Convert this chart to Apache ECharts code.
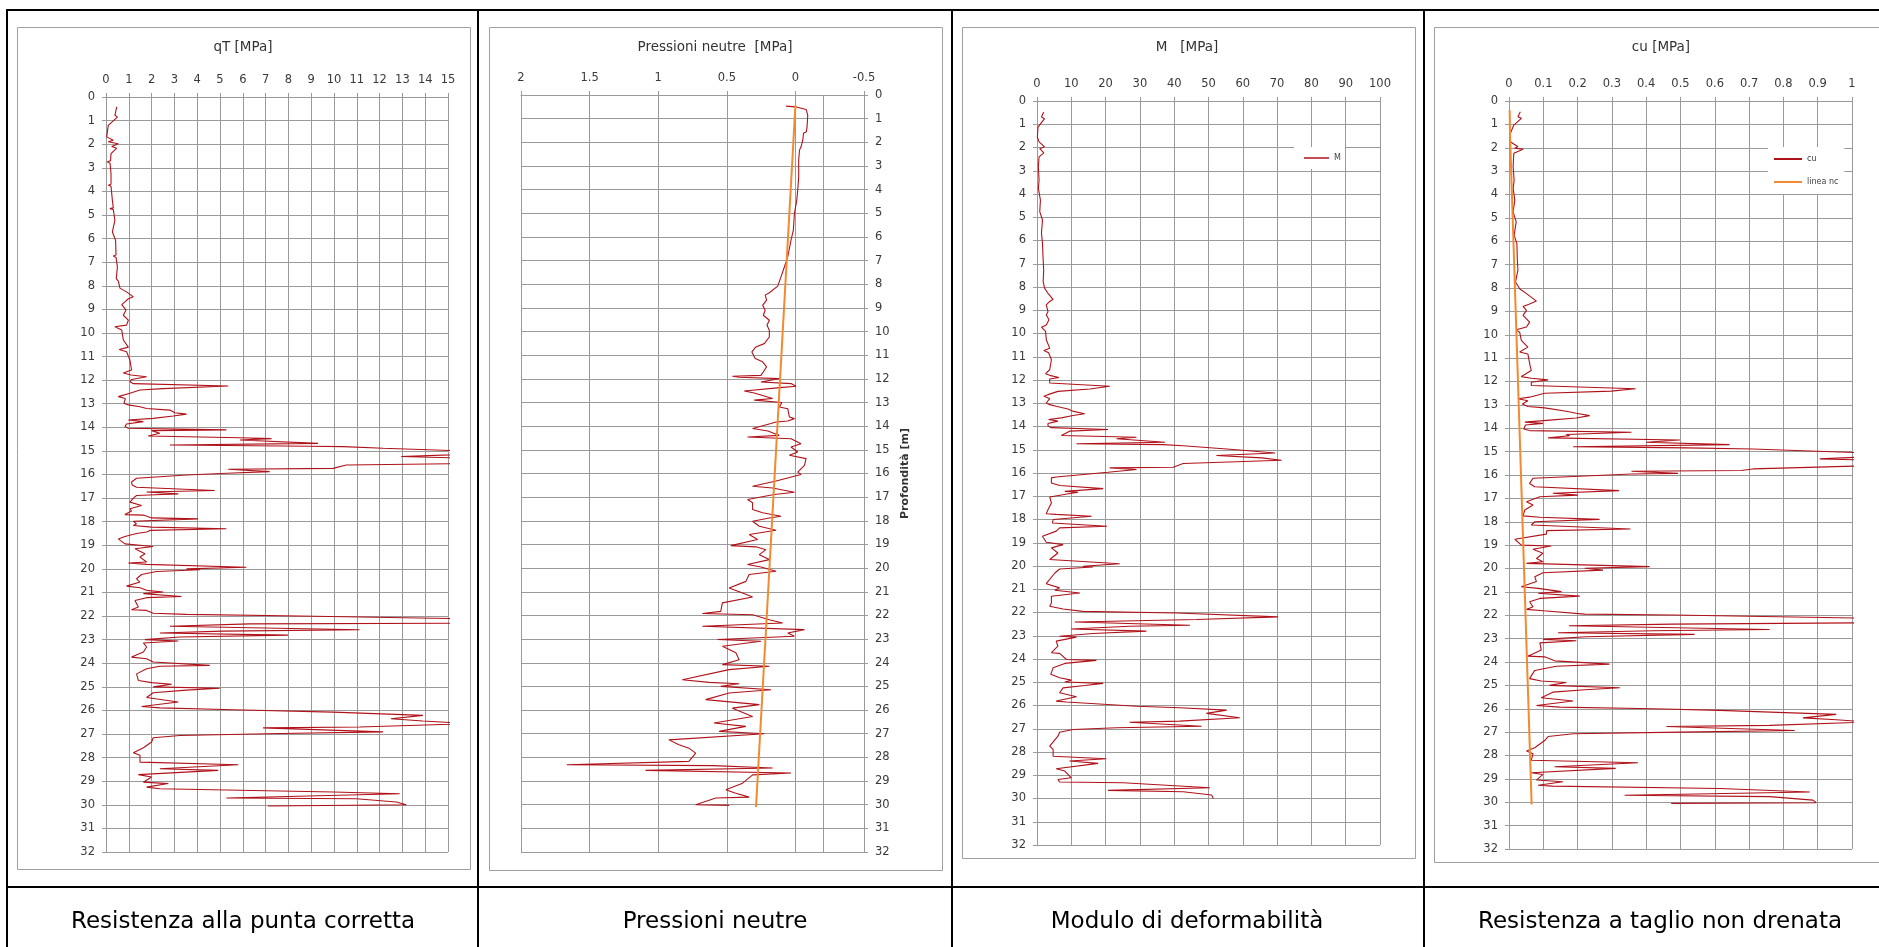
<!DOCTYPE html>
<html>
<head>
<meta charset="utf-8">
<title>CPTU - profili</title>
<script src="https://cdn.jsdelivr.net/npm/echarts@6/dist/echarts.min.js"></script>
<style>
html,body{margin:0;padding:0;background:#fff;}
#main{width:1879px;height:947px;}
</style>
</head>
<body>
<div id="main"></div>
<script>
// qT [MPa] - profondita [m]
var qtDepth = [0.42,0.78,0.85,1.2,1.69,1.83,1.9,1.98,2.1,2.17,2.4,2.7,2.75,2.82,3.25,3.7,3.74,3.78,4.38,4.7,4.73,4.77,5.22,5.72,6.07,6.7,6.74,6.8,7.2,7.7,7.76,7.8,8.1,8.26,8.47,8.55,8.68,8.8,9.03,9.25,9.46,9.67,9.74,9.88,10.3,10.6,10.7,10.8,11.15,11.57,11.7,11.78,11.86,11.97,12.07,12.15,12.25,12.3,12.36,12.42,12.56,12.7,12.78,12.98,13.05,13.13,13.2,13.27,13.38,13.44,13.52,13.62,13.69,13.76,13.86,13.97,14.04,14.11,14.14,14.25,14.37,14.44,14.48,14.54,14.68,14.75,14.8,14.82,14.89,15.03,15.1,15.24,15.31,15.45,15.53,15.6,15.74,15.78,15.88,15.95,16.02,16.16,16.32,16.45,16.54,16.68,16.74,16.82,16.86,16.89,17.0,17.17,17.31,17.45,17.55,17.7,17.72,17.84,17.88,17.98,18.09,18.16,18.23,18.3,18.37,18.44,18.5,18.63,18.73,18.94,19.05,19.15,19.36,19.5,19.71,19.75,19.81,19.93,20.0,20.04,20.11,20.24,20.42,20.56,20.73,20.8,20.91,20.98,21.05,21.17,21.22,21.34,21.62,21.73,21.76,21.88,21.93,22.0,22.12,22.3,22.33,22.43,22.58,22.64,22.72,22.81,22.89,23.0,23.06,23.14,23.31,23.52,23.74,23.81,23.95,24.09,24.13,24.23,24.45,24.73,24.82,24.89,25.0,25.06,25.14,25.25,25.45,25.64,25.83,25.89,25.97,26.07,26.21,26.35,26.45,26.56,26.7,26.74,26.91,26.99,27.06,27.16,27.34,27.58,27.79,27.9,28.19,28.3,28.47,28.54,28.72,28.82,29.04,29.1,29.25,29.32,29.46,29.53,29.71,29.74,29.88,30.0,30.05];
var qtVal = [0.47,0.39,0.5,0.1,0.03,0.32,0.1,0.54,0.25,0.47,0.22,0.2,0.06,0.18,0.22,0.22,0.1,0.22,0.28,0.32,0.17,0.32,0.39,0.28,0.42,0.44,0.32,0.44,0.5,0.45,0.39,0.54,0.61,0.9,1.2,0.98,0.83,0.69,0.88,0.76,0.98,0.9,0.39,0.69,0.76,0.98,0.58,0.9,1.05,1.12,0.76,1.1,1.78,1.12,1.05,1.2,5.36,5.43,2.5,1.49,1.05,0.54,0.85,0.79,0.98,1.49,1.78,2.8,3.02,3.53,2.95,2.07,0.98,1.64,0.9,0.83,0.98,5.28,2.0,2.36,1.85,5.87,7.26,5.87,9.3,2.8,8.93,10.4,12.15,16.5,17,12.95,16,17,16,10.54,9.96,5.36,7.18,5.3,3.53,1.34,1.12,1.15,1.34,4.77,1.78,3.17,2.15,1.34,1.2,1.05,1.56,1.05,1.12,0.83,1.64,2.0,4.04,1.2,1.34,1.2,2.0,5.28,1.93,1.78,1.34,0.83,0.54,0.83,2.07,1.27,1.71,1.49,1.78,0.98,1.78,6.16,3.53,4.12,2.22,1.56,1.34,1.49,0.9,1.49,1.78,2.51,1.64,3.31,1.78,1.27,1.42,1.12,1.78,2.07,3.53,8.5,16,16,6.3,2.8,11.12,5.14,2.36,7.98,3.24,1.71,3.17,1.64,1.78,1.64,1.12,1.78,2.07,4.55,2.36,1.78,1.34,1.42,2.0,2.88,2.07,4.99,3.53,2.07,1.78,3.17,1.56,2.36,5.58,9.96,13.9,12.5,13.9,16,11.12,6.89,12.15,7.04,3.24,2.07,2.0,1.64,1.2,1.49,1.49,5.8,2.36,4.92,1.42,2.0,1.64,2.73,1.78,2.36,9.96,12.88,5.28,10.98,12.73,13.17,7.11];

// pressioni neutre u [MPa]
var uDepth = [0.47,0.5,0.61,0.85,1.34,1.55,1.62,1.9,2.19,2.33,2.75,3.46,4.02,4.44,5.0,5.71,6.14,6.84,7.26,7.69,8.08,8.36,8.46,8.67,8.89,9.1,9.31,9.52,9.73,9.94,10.23,10.51,10.65,10.86,11.14,11.28,11.49,11.71,11.85,11.89,11.93,11.99,12.13,12.2,12.31,12.37,12.51,12.6,12.83,12.9,13.0,13.19,13.26,13.61,13.68,13.78,13.82,13.89,14.1,14.2,14.39,14.46,14.53,14.74,14.88,15.09,15.23,15.37,15.66,15.94,16.04,16.32,16.54,16.61,16.79,16.89,17.1,17.24,17.52,17.66,17.81,17.88,18.02,18.23,18.4,18.58,18.79,19.05,19.1,19.22,19.43,19.64,19.85,19.95,20.13,20.27,20.56,20.84,21.05,21.22,21.47,21.83,21.92,21.97,22.18,22.32,22.46,22.6,22.74,22.88,23.02,23.09,23.3,23.58,23.87,24.08,24.15,24.29,24.72,24.83,24.89,25.0,25.14,25.28,25.56,25.77,25.92,26.27,26.55,26.69,26.9,27.0,27.26,27.47,27.61,27.82,28.17,28.31,28.35,28.45,28.55,28.66,28.74,29.09,29.37,29.51,29.68,29.72,30.0,30.03];
var uVal = [0.068,0.0,-0.078,-0.09,-0.085,-0.08,-0.059,-0.054,-0.041,-0.03,-0.024,-0.024,-0.017,-0.01,0.007,0.015,0.032,0.056,0.08,0.105,0.129,0.19,0.22,0.21,0.239,0.22,0.234,0.19,0.207,0.19,0.19,0.227,0.288,0.317,0.293,0.239,0.21,0.234,0.251,0.459,0.41,0.117,0.251,0.032,-0.005,0.112,0.373,0.3,0.166,0.3,0.098,0.117,0.056,0.044,0.007,0.056,0.141,0.178,0.312,0.2,0.117,0.349,0.032,-0.041,0.032,-0.017,0.044,-0.078,-0.066,-0.017,-0.041,0.141,0.312,0.166,0.007,0.154,0.349,0.312,0.312,0.239,0.105,0.19,0.312,0.263,0.141,0.337,0.276,0.471,0.288,0.215,0.263,0.19,0.349,0.251,0.141,0.337,0.361,0.483,0.385,0.312,0.532,0.544,0.678,0.312,0.19,0.093,0.678,-0.066,0.056,0.007,0.568,0.251,0.532,0.434,0.41,0.532,0.19,0.483,0.824,0.629,0.41,0.544,0.178,0.483,0.654,0.263,0.459,0.312,0.593,0.361,0.556,0.227,0.922,0.849,0.776,0.727,0.776,1.666,0.6,0.166,1.093,0.032,0.312,0.385,0.507,0.44,0.337,0.58,0.727,0.483];
var u0Depth = [0.45,30.1];
var u0Val = [0.0,0.287];

// modulo M [MPa]
var mDepth = [0.47,0.69,0.76,1.12,1.55,1.76,1.97,2.05,2.23,2.4,2.83,3.4,3.76,4.26,4.76,5.12,5.69,6.12,6.7,7.27,7.77,8.05,8.27,8.53,8.62,8.77,8.85,9.06,9.2,9.41,9.63,9.73,9.91,10.27,10.63,10.73,10.83,11.13,11.56,11.73,11.8,11.89,11.96,12.13,12.27,12.32,12.39,12.49,12.63,12.7,12.8,12.99,13.06,13.13,13.25,13.35,13.45,13.53,13.63,13.7,13.77,13.87,13.98,14.05,14.13,14.2,14.39,14.46,14.53,14.68,14.74,14.78,14.83,15.0,15.14,15.25,15.35,15.45,15.59,15.75,15.78,15.85,15.97,16.17,16.21,16.43,16.54,16.67,16.79,16.83,16.9,17.03,17.29,17.58,17.75,17.78,17.86,18.0,18.15,18.29,18.36,18.5,18.72,18.98,19.08,19.22,19.44,19.72,19.77,19.9,20.01,20.04,20.13,20.3,20.76,20.94,21.04,21.16,21.3,21.59,21.73,21.85,21.95,22.02,22.19,22.3,22.41,22.55,22.59,22.71,22.8,22.9,23.02,23.06,23.23,23.45,23.73,23.76,24.02,24.06,24.19,24.38,24.66,24.81,24.91,24.99,25.05,25.14,25.24,25.45,25.62,25.81,25.85,26.03,26.1,26.2,26.34,26.53,26.67,26.72,26.89,26.96,27.03,27.15,27.32,27.75,27.89,28.18,28.29,28.39,28.49,28.72,28.82,29.11,29.18,29.29,29.32,29.54,29.65,29.71,29.85,30.0];
var mVal = [1.95,1.3,2.2,0.3,0.1,0.6,2.2,0.8,2.0,0.6,0.4,0.6,0.4,1.0,0.8,1.6,1.3,1.6,1.75,1.95,1.8,2.2,3.2,4.7,3.7,2.7,2.2,3.2,2.7,3.5,2.7,1.3,2.5,2.7,3.7,2.0,3.4,4.2,3.7,2.5,3.7,6.4,3.7,3.7,21.2,21.5,15.4,6.1,3.2,2.0,3.7,2.7,3.7,5.6,9.0,10.7,13.9,10.5,7.1,3.4,6.1,3.2,3.2,4.2,20.7,9.5,7.1,29,23.2,37.3,11.5,36.8,42.6,58.2,69.4,52.3,65.5,71.3,42.6,39.7,21.2,29,20.7,5.6,4.2,4.2,6.6,19.3,8.1,12,8.8,3.7,4.2,3.2,2.7,5.6,15.9,4.7,4.5,20.4,6.6,5.6,1.6,2.7,7.6,4.2,6.1,3.7,3.2,24.1,13.4,16.3,6.6,5.2,2.7,6.6,5.2,12.5,4.2,4.2,3.7,7.6,13.4,40.7,70.3,46.5,11,44.6,27,10,31.9,16.3,6.6,11.5,5.6,6.1,4.2,6.6,8.6,17.3,8.1,4.7,4.0,6.6,10,8.1,19.3,13.9,7.6,6.6,11.5,5.6,8.6,29,41.6,55.3,49.4,59.1,41.6,27,48,23.2,10.5,6.6,6.1,3.7,4.7,4.7,20.2,9.5,17.8,5.6,8.1,10,6.1,6.6,25.1,50.4,20.7,42.6,50.9,51.4];

// cu [MPa]
var cuDepth = [0.46,0.67,0.74,1.03,1.46,1.74,1.96,2.02,2.06,2.24,2.81,3.39,3.74,4.24,4.74,5.17,5.74,6.1,6.67,7.24,7.74,8.03,8.24,8.56,8.68,8.79,8.96,9.17,9.46,9.67,9.79,9.89,10.24,10.53,10.74,10.82,11.36,11.53,11.79,11.86,11.93,12.03,12.17,12.31,12.41,12.5,12.67,12.74,12.82,12.96,13.07,13.13,13.27,13.36,13.46,13.56,13.64,13.74,13.79,13.86,14.03,14.1,14.17,14.27,14.32,14.41,14.5,14.6,14.7,14.79,14.84,14.89,14.96,15.06,15.2,15.31,15.36,15.6,15.74,15.81,15.84,15.93,15.96,16.14,16.36,16.5,16.67,16.78,16.86,16.93,17.14,17.28,17.5,17.75,17.81,17.9,18.0,18.14,18.31,18.38,18.53,18.75,19.0,19.04,19.18,19.35,19.57,19.71,19.78,19.92,19.99,20.07,20.18,20.35,20.56,20.78,20.85,20.99,21.06,21.18,21.28,21.42,21.64,21.75,21.81,21.95,21.99,22.13,22.32,22.38,22.45,22.61,22.66,22.75,22.82,22.92,23.03,23.09,23.18,23.49,23.75,23.78,23.95,24.09,24.18,24.36,24.71,24.81,24.88,25.0,25.1,25.19,25.29,25.53,25.67,25.86,25.93,26.0,26.07,26.24,26.39,26.47,26.57,26.71,26.76,26.93,27.0,27.07,27.19,27.36,27.67,27.81,27.93,28.2,28.31,28.48,28.55,28.74,28.81,29.05,29.12,29.27,29.31,29.41,29.56,29.7,29.76,29.91,30.02,30.05];
var cuVal = [0.033,0.026,0.036,0.014,0.002,0.004,0.026,0.016,0.041,0.014,0.012,0.015,0.012,0.017,0.012,0.021,0.015,0.023,0.024,0.026,0.019,0.031,0.051,0.08,0.06,0.041,0.051,0.041,0.06,0.051,0.021,0.031,0.036,0.055,0.031,0.055,0.062,0.065,0.036,0.065,0.114,0.065,0.065,0.369,0.298,0.104,0.06,0.026,0.055,0.039,0.055,0.104,0.167,0.196,0.235,0.196,0.128,0.046,0.099,0.048,0.043,0.06,0.357,0.167,0.177,0.114,0.498,0.4,0.643,0.187,0.517,0.711,0.857,1.05,1.08,0.906,1.05,1.05,0.711,0.677,0.357,0.493,0.357,0.07,0.06,0.075,0.321,0.128,0.201,0.09,0.051,0.07,0.046,0.041,0.09,0.264,0.075,0.065,0.354,0.11,0.109,0.017,0.036,0.123,0.07,0.099,0.08,0.099,0.051,0.41,0.221,0.274,0.099,0.075,0.08,0.036,0.085,0.153,0.085,0.206,0.09,0.06,0.07,0.051,0.1,0.221,0.478,1.05,1.05,0.478,0.175,0.76,0.42,0.143,0.541,0.225,0.099,0.196,0.09,0.094,0.055,0.104,0.133,0.293,0.138,0.075,0.06,0.094,0.167,0.118,0.323,0.221,0.128,0.094,0.187,0.08,0.148,0.42,0.614,0.954,0.857,0.954,1.05,0.76,0.459,0.833,0.498,0.187,0.114,0.104,0.075,0.051,0.07,0.065,0.376,0.133,0.311,0.065,0.099,0.08,0.157,0.085,0.128,0.614,0.877,0.337,0.76,0.886,0.896,0.473];
var ncDepth = [0.4,1.5,30.1];
var ncVal = [0.002,0.003,0.066];

var titles = ['qT [MPa]', 'Pressioni neutre  [MPa]', 'M   [MPa]', 'cu [MPa]'];
var captions = ['Resistenza alla punta corretta', 'Pressioni neutre', 'Modulo di deformabilità', 'Resistenza a taglio non drenata'];

var RED = '#b0121a';
var ORANGE = '#f4892f';
var GRID = '#9a9a9a';
var FONT = 'DejaVu Sans';

function pairs(vals, depths){
    return depths.map(function(d, i){ return [vals[i], d]; });
}

function xAx(gi, min, max, step, inverse){
    return {
        gridIndex: gi, type: 'value', position: 'top',
        min: min, max: max, interval: step, inverse: !!inverse,
        axisLine: {show: true, lineStyle: {color: GRID}},
        axisTick: {show: true, length: 4, lineStyle: {color: GRID}},
        axisLabel: {fontSize: 11.5, fontFamily: FONT, color: '#3a3a3a', margin: 11},
        splitLine: {show: true, lineStyle: {color: GRID, width: 1}}
    };
}

function yAx(gi, right){
    return {
        gridIndex: gi, type: 'value', inverse: true,
        position: right ? 'right' : 'left',
        min: 0, max: 32, interval: 1,
        axisLine: {show: true, onZero: false, lineStyle: {color: GRID}},
        axisTick: {show: true, length: 4, lineStyle: {color: GRID}},
        axisLabel: {fontSize: 11.5, fontFamily: FONT, color: '#3a3a3a', margin: 11},
        splitLine: {show: true, lineStyle: {color: GRID, width: 1}}
    };
}

var myChart = echarts.init(document.getElementById('main'));

// cornici tabella e aree grafico
var gfx = [];
var panelX = [7, 478, 952, 1424];
gfx.push({type: 'line', shape: {x1: 6, y1: 10, x2: 1879, y2: 10}, style: {stroke: '#000', lineWidth: 2}});
gfx.push({type: 'line', shape: {x1: 6, y1: 887, x2: 1879, y2: 887}, style: {stroke: '#000', lineWidth: 2}});
panelX.forEach(function(x){
    gfx.push({type: 'line', shape: {x1: x, y1: 9, x2: x, y2: 947}, style: {stroke: '#000', lineWidth: 2}});
});
var areas = [[17, 27, 453, 842], [489, 27, 453, 843], [962, 27, 453, 831], [1434, 27, 460, 835]];
areas.forEach(function(a){
    gfx.push({type: 'rect', shape: {x: a[0] + 0.5, y: a[1] + 0.5, width: a[2], height: a[3]},
        style: {fill: 'none', stroke: '#a0a0a0', lineWidth: 1}});
});
var titleX = [243, 715, 1187, 1661];
var capX = [243, 715, 1187, 1660];
titles.forEach(function(t, i){
    gfx.push({type: 'text', x: titleX[i], y: 47, style: {text: t, fontSize: 13.5, fontFamily: FONT,
        fill: '#333', align: 'center', verticalAlign: 'middle'}});
});
captions.forEach(function(t, i){
    gfx.push({type: 'text', x: capX[i], y: 922, style: {text: t, fontSize: 23, fontFamily: FONT,
        fill: '#000', align: 'center', verticalAlign: 'middle'}});
});

var ax2y = yAx(1, true);
ax2y.name = 'Profondità [m]';
ax2y.nameLocation = 'middle';
ax2y.nameRotate = 90;
ax2y.nameGap = 36;
ax2y.nameTextStyle = {fontSize: 11, fontWeight: 'bold', fontFamily: FONT, color: '#333'};

var option = {
    animation: false,
    backgroundColor: '#fff',
    grid: [
        {left: 106, top: 97, width: 342, height: 755},
        {left: 521, top: 95, width: 343, height: 757},
        {left: 1037, top: 101, width: 343, height: 744},
        {left: 1509, top: 101, width: 343, height: 748}
    ],
    xAxis: [
        xAx(0, 0, 15, 1),
        xAx(1, -0.5, 2, 0.5, true),
        xAx(2, 0, 100, 10),
        xAx(3, 0, 1, 0.1)
    ],
    yAxis: [yAx(0), ax2y, yAx(2), yAx(3)],
    legend: [
        {data: ['M'], left: 1294, top: 147, backgroundColor: '#fff', padding: [7, 4, 7, 10],
            icon: 'rect', itemWidth: 25, itemHeight: 1.5, itemGap: 8,
            textStyle: {fontSize: 8, fontFamily: FONT, color: '#404040'}},
        {data: ['cu', 'linea nc'], orient: 'vertical', left: 1768, top: 147, backgroundColor: '#fff',
            padding: [8, 6, 8, 6], icon: 'rect', itemWidth: 28, itemHeight: 2, itemGap: 15,
            textStyle: {fontSize: 8, fontFamily: FONT, color: '#404040'}}
    ],
    graphic: {elements: gfx},
    series: [
        {name: 'qT', type: 'line', xAxisIndex: 0, yAxisIndex: 0, data: pairs(qtVal, qtDepth),
            symbol: 'none', lineStyle: {color: RED, width: 1.1}, itemStyle: {color: RED}},
        {name: 'u', type: 'line', xAxisIndex: 1, yAxisIndex: 1, data: pairs(uVal, uDepth),
            symbol: 'none', lineStyle: {color: RED, width: 1.1}, itemStyle: {color: RED},
            markLine: {silent: true, symbol: 'none', label: {show: false},
                lineStyle: {color: GRID, type: 'solid', width: 1}, data: [{xAxis: -0.2}]}},
        {name: 'u0', type: 'line', xAxisIndex: 1, yAxisIndex: 1, data: pairs(u0Val, u0Depth),
            symbol: 'none', lineStyle: {color: ORANGE, width: 2}, itemStyle: {color: ORANGE}},
        {name: 'M', type: 'line', xAxisIndex: 2, yAxisIndex: 2, data: pairs(mVal, mDepth),
            symbol: 'none', lineStyle: {color: RED, width: 1.1}, itemStyle: {color: RED}},
        {name: 'cu', type: 'line', xAxisIndex: 3, yAxisIndex: 3, data: pairs(cuVal, cuDepth),
            symbol: 'none', lineStyle: {color: RED, width: 1.1}, itemStyle: {color: RED}},
        {name: 'linea nc', type: 'line', xAxisIndex: 3, yAxisIndex: 3, data: pairs(ncVal, ncDepth),
            symbol: 'none', lineStyle: {color: ORANGE, width: 2}, itemStyle: {color: ORANGE}}
    ]
};

myChart.setOption(option);
</script>
</body>
</html>
